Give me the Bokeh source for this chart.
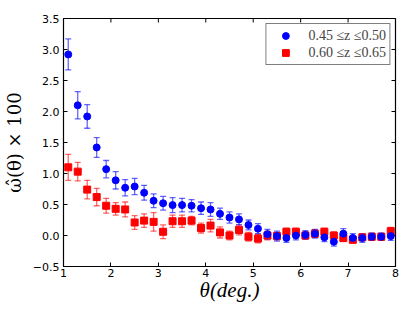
import math
from bokeh.plotting import figure
from bokeh.models import ColumnDataSource, Whisker, TeeHead, FixedTicker, Range1d, Legend, LegendItem
from bokeh.embed import file_html
from bokeh.resources import INLINE

theta = [1.1, 1.3, 1.5, 1.7, 1.9, 2.1, 2.3, 2.5, 2.7, 2.9, 3.1, 3.3, 3.5, 3.7, 3.9, 4.1, 4.3, 4.5,
         4.7, 4.9, 5.1, 5.3, 5.5, 5.7, 5.9, 6.1, 6.3, 6.5, 6.7, 6.9, 7.1, 7.3, 7.5, 7.7, 7.9]
w_a = [2.92, 2.10, 1.92, 1.42, 1.07, 0.89, 0.77, 0.79, 0.69, 0.56, 0.52, 0.49, 0.49, 0.48, 0.44, 0.42, 0.35, 0.29,
       0.26, 0.17, 0.11, 0.02, -0.01, -0.04, 0.00, 0.01, 0.03, -0.03, -0.10, 0.03, -0.04, -0.04, -0.02, -0.02, -0.01]
e_a = [0.25, 0.22, 0.19, 0.16, 0.14, 0.14, 0.13, 0.13, 0.12, 0.11, 0.11, 0.12, 0.11, 0.10, 0.10, 0.11, 0.09, 0.09,
       0.09, 0.08, 0.08, 0.08, 0.08, 0.07, 0.07, 0.07, 0.07, 0.07, 0.07, 0.08, 0.07, 0.07, 0.06, 0.06, 0.07]
w_b = [1.10, 1.03, 0.74, 0.62, 0.48, 0.43, 0.42, 0.21, 0.24, 0.22, 0.06, 0.23, 0.23, 0.24, 0.12, 0.16, 0.05, 0.00,
       0.09, -0.02, -0.05, 0.00, -0.01, 0.06, 0.06, 0.00, 0.03, 0.06, 0.00, -0.04, -0.07, -0.03, -0.02, -0.02, 0.07]
e_b = [0.21, 0.15, 0.15, 0.14, 0.12, 0.10, 0.12, 0.11, 0.11, 0.15, 0.11, 0.10, 0.10, 0.07, 0.08, 0.10, 0.09, 0.07,
       0.08, 0.07, 0.07, 0.07, 0.06, 0.06, 0.06, 0.06, 0.06, 0.06, 0.06, 0.06, 0.05, 0.05, 0.05, 0.05, 0.06]
label_a = "0.45 \u2264z \u22640.50"
label_b = "0.60 \u2264z \u22640.65"
x_ticks = [1, 2, 3, 4, 5, 6, 7, 8]
y_ticks = [-0.5, 0.0, 0.5, 1.0, 1.5, 2.0, 2.5, 3.0, 3.5]
y_tick_labels = ["\u22120.5", "0.0", "0.5", "1.0", "1.5", "2.0", "2.5", "3.0", "3.5"]
x_lim = (1, 8)
y_lim = (-0.5, 3.5)

src_a = ColumnDataSource(dict(x=theta, y=w_a, lo=[v - e for v, e in zip(w_a, e_a)], hi=[v + e for v, e in zip(w_a, e_a)]))
src_b = ColumnDataSource(dict(x=theta, y=w_b, lo=[v - e for v, e in zip(w_b, e_b)], hi=[v + e for v, e in zip(w_b, e_b)]))

p = figure(frame_width=332, frame_height=248, output_backend="svg", toolbar_location=None,
           x_range=Range1d(*x_lim), y_range=Range1d(*y_lim),
           min_border_left=54, min_border_right=13, min_border_top=18, min_border_bottom=36)
p.grid.visible = False
p.outline_line_color = "black"
p.outline_line_width = 1.2
p.background_fill_color = "white"
p.border_fill_color = "white"

for ax in [p.xaxis[0], p.yaxis[0]]:
    ax.major_tick_in = 4
    ax.major_tick_out = 0
    ax.minor_tick_in = 0
    ax.minor_tick_out = 0
    ax.major_label_text_font = "DejaVu Sans"
    ax.major_label_text_font_size = "11px"
    ax.major_label_text_color = "black"
    ax.axis_line_color = "black"
    ax.axis_label_text_color = "black"
p.xaxis[0].ticker = FixedTicker(ticks=x_ticks)
p.yaxis[0].ticker = FixedTicker(ticks=y_ticks)
p.yaxis[0].major_label_overrides = {t: s for t, s in zip(y_ticks, y_tick_labels)}
p.xaxis[0].major_label_standoff = 2
p.yaxis[0].major_label_standoff = 4
p.xaxis[0].axis_label = "\u03b8(deg.)"
p.xaxis[0].axis_label_text_font = "Liberation Serif"
p.xaxis[0].axis_label_text_font_size = "21px"
p.xaxis[0].axis_label_text_font_style = "italic"
p.xaxis[0].axis_label_standoff = -2
p.yaxis[0].axis_label = "\u03c9\u0302(\u03b8) \u00d7 100"
p.yaxis[0].axis_label_text_font = "DejaVu Serif"
p.yaxis[0].axis_label_text_font_size = "18px"
p.yaxis[0].axis_label_text_font_style = "normal"
p.yaxis[0].axis_label_standoff = 5

# inward ticks on the top and right edges (half of each dash is clipped by the frame)
p.scatter(x=x_ticks, y=[y_lim[1]] * len(x_ticks), marker="dash", size=8, angle=math.pi / 2,
          line_color="black", line_width=1)
p.scatter(x=[x_lim[1]] * len(y_ticks), y=y_ticks, marker="dash", size=8,
          line_color="black", line_width=1)

for src, col in [(src_b, "#ff0000"), (src_a, "#0000ff")]:
    w = Whisker(source=src, base="x", lower="lo", upper="hi", line_color=col, line_alpha=0.6, line_width=1.3,
                upper_head=TeeHead(size=6, line_color=col, line_alpha=0.6, line_width=1.3),
                lower_head=TeeHead(size=6, line_color=col, line_alpha=0.6, line_width=1.3))
    p.add_layout(w)

rb = p.scatter("x", "y", source=src_b, marker="square", size=7, fill_color="#ff0000", line_color="#ff0000")
ra = p.scatter("x", "y", source=src_a, marker="circle", size=7, fill_color="#0000ff", line_color="#0000ff")

legend = Legend(items=[LegendItem(label=label_a, renderers=[ra]), LegendItem(label=label_b, renderers=[rb])],
                location="top_right")
legend.border_line_color = "black"
legend.border_line_width = 1.2
legend.label_text_font = "Liberation Serif"
legend.label_text_font_size = "14px"
legend.label_standoff = 7
legend.glyph_width = 32
legend.glyph_height = 17
legend.spacing = 0
legend.padding = 3
legend.margin = 5
legend.label_height = 17
legend.background_fill_alpha = 1
p.add_layout(legend, "center")

open("out.html", "w").write(file_html(p, INLINE))
